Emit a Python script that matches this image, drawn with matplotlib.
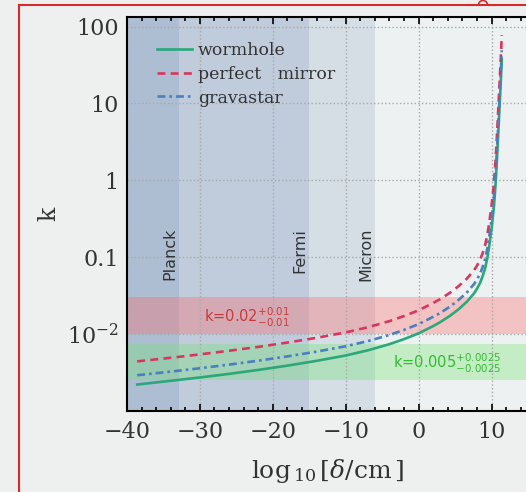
import matplotlib
matplotlib.use('Agg')
import matplotlib.pyplot as plt
from matplotlib.lines import Line2D
from matplotlib.patches import Arc
from matplotlib.ticker import MultipleLocator, FixedLocator, FixedFormatter, NullLocator

# log10 of delta in cm
log_delta = [-38.6, -34, -30, -26, -22, -18, -14, -10, -7, -4, -2, 0, 2.0, 2.95, 4.3,
             5.5, 6.6, 7.6, 8.0, 8.4, 8.75, 9.1, 9.4, 9.66, 10.0, 10.2, 10.34, 10.5,
             10.65, 10.8, 10.96, 11.1, 11.2, 11.3, 11.4]

k_wormhole = [0.00221, 0.00247, 0.00273, 0.00304, 0.00342, 0.00389, 0.00449, 0.00527,
              0.00614, 0.00740, 0.00861, 0.01023, 0.01274, 0.01429, 0.0173, 0.0211,
              0.0263, 0.0339, 0.0389, 0.0457, 0.0556, 0.0708, 0.0955, 0.135, 0.234,
              0.347, 0.468, 0.759, 1.29, 2.40, 4.90, 9.12, 14.1, 22.4, 37.2]
k_mirror = [0.00442, 0.00492, 0.00545, 0.00607, 0.00682, 0.00776, 0.00895, 0.01052,
            0.01225, 0.01476, 0.01718, 0.0204, 0.0254, 0.0285, 0.0345, 0.0422,
            0.0525, 0.0676, 0.0776, 0.0912, 0.111, 0.141, 0.191, 0.269, 0.468,
            0.692, 0.955, 1.55, 2.63, 4.90, 10.0, 18.6, 28.8, 45.7, 77.6]
k_gravastar = [0.00292, 0.00325, 0.00360, 0.00401, 0.00451, 0.00513, 0.00592, 0.00695,
               0.00809, 0.00975, 0.01135, 0.01349, 0.0168, 0.0188, 0.0228, 0.0279,
               0.0347, 0.0447, 0.0513, 0.0603, 0.0733, 0.0933, 0.126, 0.178, 0.309,
               0.457, 0.617, 1.0, 1.70, 3.16, 6.46, 12.0, 18.6, 29.5, 49.0]

# length scales (log10 cm)
scale_names = ['Planck', 'Fermi', 'Micron']
scale_edges = [-32.8, -15, -6]

# measured k with symmetric errors
k_mirror_fit = (0.02, 0.01)
k_wormhole_fit = (0.005, 0.0025)

ytick_vals = [0.01, 0.1, 1, 10, 100]
ytick_labels = [r'$10^{-2}$', '0.1', '1', '10', '100']

plt.rcParams['font.family'] = 'DejaVu Serif'
plt.rcParams['mathtext.fontset'] = 'dejavuserif'

W, H = 526, 492
fig = plt.figure(figsize=(W / 100, H / 100), dpi=100, facecolor='#eef0ef')
ax = fig.add_axes([127 / W, 81 / H, (528 - 127) / W, 394 / H])
ax.set_facecolor('#eef1f1')

for edge in scale_edges:
    ax.axvspan(-40, edge, color='#4a6fa5', alpha=0.15, lw=0, zorder=0.5)

m, e = k_mirror_fit
ax.axhspan(m - e, m + e, color='#ff6464', alpha=0.33, lw=0, zorder=0.6)
m, e = k_wormhole_fit
ax.axhspan(m - e, m + e, color='#64e664', alpha=0.30, lw=0, zorder=0.6)

ax.plot(log_delta, k_wormhole, color='#2aa87a', lw=1.9, label='wormhole')
ax.plot(log_delta, k_mirror, color='#d9365e', lw=1.9, ls=(0, (3, 2)),
        label='perfect   mirror')
ax.plot(log_delta, k_gravastar, color='#4a7fc0', lw=1.9, ls=(0, (3, 1.5, 1, 1.5)),
        label='gravastar')

for name, edge in zip(scale_names, scale_edges):
    ax.text(edge - 1.3, 0.24, name, rotation=90, ha='center', va='top',
            fontsize=11.5, family='DejaVu Sans', color='#333333')

ax.text(-29.4, 0.0165, r'k=0.02$^{+0.01}_{-0.01}$', color='#c83a3a', fontsize=10.5,
        family='DejaVu Sans', math_fontfamily='dejavusans', va='center')
ax.text(-3.55, 0.0041, r'k=0.005$^{+0.0025}_{-0.0025}$', color='#33bb33', fontsize=10.5,
        family='DejaVu Sans', math_fontfamily='dejavusans', va='center')

ax.set_yscale('log')
ax.set_xlim(-40, 15)
ax.set_ylim(1e-3, 133)

ax.xaxis.set_major_locator(MultipleLocator(10))
ax.xaxis.set_minor_locator(MultipleLocator(2))
ax.yaxis.set_major_locator(FixedLocator(ytick_vals))
ax.yaxis.set_major_formatter(FixedFormatter(ytick_labels))
ax.yaxis.set_minor_locator(NullLocator())

ax.grid(True, which='major', ls=':', color='#a8a8a8', lw=1.0)

ax.tick_params(axis='x', which='both', direction='in', top=True, bottom=True,
               labelsize=16, labelcolor='#333333', pad=7, width=1.2)
ax.tick_params(axis='x', which='major', length=5)
ax.tick_params(axis='x', which='minor', length=3)
ax.tick_params(axis='y', which='both', length=0, labelsize=16,
               labelcolor='#333333', pad=6)

for side in ['left', 'bottom', 'top']:
    ax.spines[side].set_linewidth(1.5)
ax.spines['right'].set_visible(False)

ax.set_xlabel(r'$\log_{\,10}[\delta/\mathrm{cm}\,]$', fontsize=18, color='#333333', labelpad=10)
ax.set_ylabel('k', fontsize=17, color='#333333')
ax.yaxis.set_label_coords(-0.165, 0.5)

ax.legend(loc='upper left', bbox_to_anchor=(0.058, 0.955), frameon=False,
          prop={'family': 'DejaVu Serif', 'size': 12.5}, handlelength=2.0,
          handletextpad=0.35, labelspacing=0.4, borderaxespad=0,
          labelcolor='#333333')

# slide frame
fy = 1 - 5 / H
fig.add_artist(Line2D([19 / W, 19 / W], [0, fy], transform=fig.transFigure,
                      color='#d62b2b', lw=1.5))
fig.add_artist(Line2D([19 / W, 1], [fy, fy], transform=fig.transFigure,
                      color='#d62b2b', lw=1.5))
fig.add_artist(Arc((483 / W, fy), 9 / W, 9 / H, theta1=0, theta2=180,
                   transform=fig.transFigure, color='#d62b2b', lw=1.2))

fig.savefig('out.png', dpi=100, facecolor=fig.get_facecolor())
